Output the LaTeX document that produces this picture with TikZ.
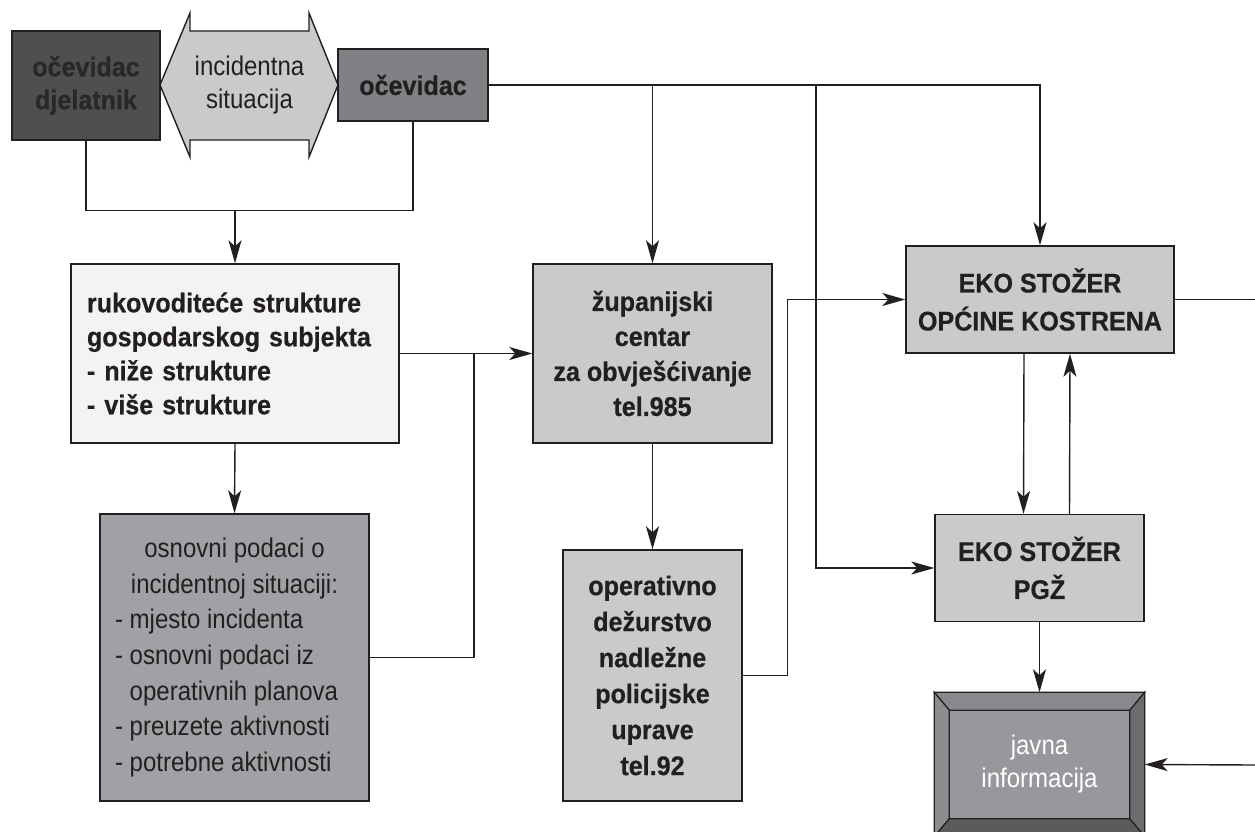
\documentclass[tikz,border=0pt]{standalone}
\usepackage{fontspec}
\setmainfont{Liberation Sans}[FakeStretch=0.89]
\newfontfamily\bfont{Liberation Sans}[FakeStretch=0.93, BoldFeatures={FakeBold=0.5}]
\usetikzlibrary{arrows.meta,calc}
\definecolor{ink}{HTML}{231F20}
\definecolor{darkbox}{HTML}{4E4F51}
\definecolor{darktext}{HTML}{27282A}
\definecolor{midbox}{HTML}{808184}
\definecolor{lightbox}{HTML}{C9CACC}
\definecolor{paperbox}{HTML}{F3F3F3}
\definecolor{osnbox}{HTML}{A0A1A4}
\definecolor{javin}{HTML}{97989B}
\definecolor{javtop}{HTML}{88898C}
\definecolor{javleft}{HTML}{8C8D90}
\definecolor{javright}{HTML}{6B6C6F}
\definecolor{javbot}{HTML}{5A5B5D}
\tikzset{
  box/.style={draw=ink, line width=1.4pt, inner sep=0pt, text=ink},
  bold/.style={font=\bfont\bfseries\fontsize{27}{35}\selectfont, align=center},
  plain/.style={font=\fontsize{27}{33}\selectfont, align=center},
  conn/.style={draw=ink, line width=1.4pt},
  arr/.style={conn, -{Stealth[length=23pt,width=13pt,inset=6pt]}}
}
\begin{document}
\begin{tikzpicture}[x=1pt,y=-1pt]
\useasboundingbox[fill=white] (0,0) rectangle (1255,832);
\clip (0,0) rectangle (1255,832);

% double arrow
\draw[box, fill=lightbox] (160,85) -- (190,13) -- (190,31) -- (309,31) -- (309,13) -- (338,85)
  -- (309,157) -- (309,140) -- (190,140) -- (190,157) -- cycle;
\node[plain, text=ink, inner sep=0pt] (sit) at (249.5,85) {incidentna\\situacija};

% boxes
\node[box, fill=darkbox, text=darktext, minimum width=148pt, minimum height=109pt,
  font=\bfont\bfseries\fontsize{27}{33}\selectfont, align=center] (ocL) at (86,85.5) {očevidac\\djelatnik};
\node[box, bold, fill=midbox, minimum width=150pt, minimum height=72pt] (oc) at (413,85) {očevidac};

\node[box, fill=paperbox, minimum width=328pt, minimum height=179pt, inner xsep=16pt,
  text width=296pt, align=left, font=\bfont\bfseries\fontsize{27}{34}\selectfont] (ruk) at (235,353.5)
  {rukovoditeće strukture\\gospodarskog subjekta\\- niže strukture\\- više strukture};

\node[box, bold, fill=lightbox, minimum width=239pt, minimum height=179pt] (zup) at (652.5,353.5)
  {županijski\\centar\\za obvješćivanje\\tel.985};

\node[box, fill=osnbox, minimum width=269pt, minimum height=287pt] (osn) at (234.5,657.5)
  {\parbox{239pt}{\fontsize{27}{35.7}\selectfont\centering osnovni podaci o\\incidentnoj situaciji:\par
  \raggedright - mjesto incidenta\\- osnovni podaci iz\\\phantom{- }operativnih planova\\- preuzete aktivnosti\\- potrebne aktivnosti\par}};

\node[box, fill=lightbox, minimum width=179pt, minimum height=251pt,
  font=\bfont\bfseries\fontsize{27}{36}\selectfont, align=center] (op) at (652.5,675.5)
  {operativno\\dežurstvo\\nadležne\\policijske\\uprave\\tel.92};

\node[box, bold, fill=lightbox, minimum width=268pt, minimum height=107pt,
  font=\bfont\bfseries\fontsize{27}{38}\selectfont] (eko1) at (1040,299.5) {EKO STOŽER\\OPĆINE KOSTRENA};

\node[box, bold, fill=lightbox, minimum width=209pt, minimum height=107pt,
  font=\bfont\bfseries\fontsize{27}{38}\selectfont] (pgz) at (1039.5,568) {EKO STOŽER\\PGŽ};

% javna informacija (bevelled)
\node[box, fill=javin, minimum width=209pt, minimum height=143pt] (jav) at (1039.5,764.5) {};
\coordinate (inw) at ($(jav.north west)+(15,18)$);
\coordinate (ine) at ($(jav.north east)+(-15,18)$);
\coordinate (isw) at ($(jav.south west)+(15,-18)$);
\coordinate (ise) at ($(jav.south east)+(-15,-18)$);
\draw[box, line width=1.2pt, fill=javtop] (jav.north west) -- (jav.north east) -- (ine) -- (inw) -- cycle;
\draw[box, line width=1.2pt, fill=javleft] (jav.north west) -- (inw) -- (isw) -- (jav.south west) -- cycle;
\draw[box, line width=1.2pt, fill=javright] (jav.north east) -- (ine) -- (ise) -- (jav.south east) -- cycle;
\draw[box, line width=1.2pt, fill=javbot] (jav.south west) -- (isw) -- (ise) -- (jav.south east) -- cycle;
\draw[box, line width=1.2pt, fill=javin] (inw) rectangle (ise);
\node[plain, text=white, inner sep=0pt] (javt) at (jav.center) {javna\\informacija};

% connectors
\coordinate (j1) at (235,210);
\draw[conn] (ocL.south) -- ++(0,70) -| (oc.south);
\draw[arr] (j1) -- (ruk.north);

\draw[arr] (oc.east) -| (eko1.north);
\coordinate (b1) at (652.5,85);
\draw[arr] (b1) -- (zup.north);
\coordinate (b2) at (816,85);
\draw[arr] (b2) |- (pgz.west);

\draw[arr] (ruk.east) -- (zup.west);
\coordinate (j2) at (474,353.5);
\draw[conn] (osn.east) -| (j2);
\draw[arr] (ruk.south) -- (osn.north);
\draw[arr] (zup.south) -- (op.north);
\draw[arr] (op.east) -- ++(45,0) |- (eko1.west);

\coordinate (e1) at (1255,299.5);
\draw[conn] (eko1.east) -- (e1);
\draw[arr] ([xshift=-16pt]eko1.south) -- ([xshift=-16pt]pgz.north);
\draw[arr] ([xshift=30pt]pgz.north) -- ([xshift=30pt]eko1.south);
\draw[arr] (pgz.south) -- (jav.north);
\coordinate (e2) at (1255,765);
\draw[arr] (e2) -- (jav.east);
\end{tikzpicture}
\end{document}
